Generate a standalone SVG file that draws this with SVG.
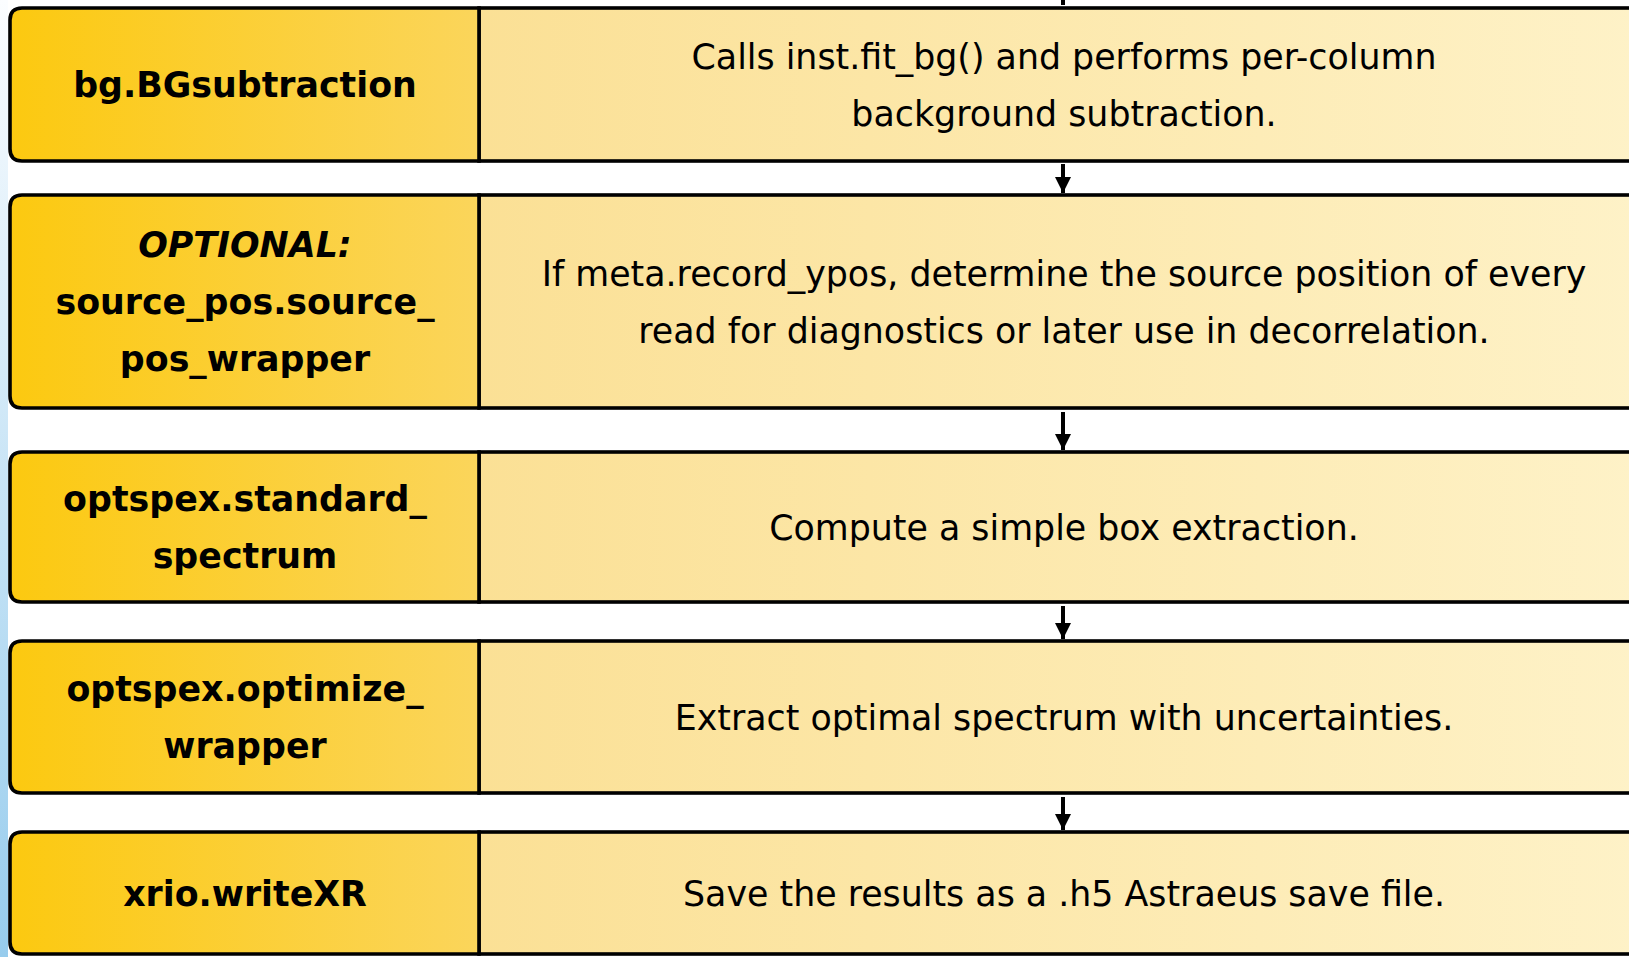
<svg xmlns="http://www.w3.org/2000/svg" width="1629" height="957" viewBox="0 0 1629 957">
<defs>
<linearGradient id="strip" x1="0" y1="0" x2="0" y2="1">
<stop offset="0" stop-color="#fbfdff"/>
<stop offset="1" stop-color="#97cced"/>
</linearGradient>
<linearGradient id="gl" x1="0" y1="0" x2="1" y2="0">
<stop offset="0" stop-color="#fcc910"/>
<stop offset="1" stop-color="#fbd55b"/>
</linearGradient>
<linearGradient id="gr" x1="479" y1="0" x2="1650" y2="0" gradientUnits="userSpaceOnUse">
<stop offset="0" stop-color="#fbe095"/>
<stop offset="1" stop-color="#fef2c8"/>
</linearGradient>
<marker id="ah" viewBox="0 0 16 16" refX="16" refY="8" markerWidth="16" markerHeight="16" markerUnits="userSpaceOnUse" orient="auto">
<path d="M0,0 L16,8 L0,16 Z" fill="#000"/>
</marker>
</defs>
<style>
.l{fill:url(#gl);stroke:#000;stroke-width:3.6}
.r{fill:url(#gr);stroke:#000;stroke-width:3.6}
.t{font-family:"DejaVu Sans","Liberation Sans",sans-serif;font-size:34.8px;fill:#000;text-anchor:middle}
.b{font-weight:bold}
.c{stroke:#000;stroke-width:4;fill:none}
</style>
<rect x="0" y="0" width="1629" height="957" fill="#fff"/>
<rect x="0" y="0" width="8" height="957" fill="url(#strip)"/>

<g id="connectors">
<line class="c" x1="1063" y1="-10" x2="1063" y2="5"/>
<line class="c" x1="1063" y1="164" x2="1063" y2="193" marker-end="url(#ah)"/>
<line class="c" x1="1063" y1="412" x2="1063" y2="450" marker-end="url(#ah)"/>
<line class="c" x1="1063" y1="606" x2="1063" y2="639" marker-end="url(#ah)"/>
<line class="c" x1="1063" y1="797" x2="1063" y2="830" marker-end="url(#ah)"/>
</g>

<g id="n1">
<rect class="r" x="479" y="8" width="1200" height="153"/>
<path class="l" d="M479,8 H22 Q10,8 10,20 V149 Q10,161 22,161 H479 Z"/>
<text class="t b" x="245" y="97">bg.BGsubtraction</text>
<text class="t" x="1064" y="68.5">Calls inst.fit_bg() and performs per-column</text>
<text class="t" x="1064" y="125.5">background subtraction.</text>
</g>

<g id="n2">
<rect class="r" x="479" y="195" width="1200" height="213"/>
<path class="l" d="M479,195 H22 Q10,195 10,207 V396 Q10,408 22,408 H479 Z"/>
<text class="t b" x="245" y="257" font-style="italic">OPTIONAL:</text>
<text class="t b" x="245" y="314">source_pos.source_</text>
<text class="t b" x="245" y="371">pos_wrapper</text>
<text class="t" x="1064" y="285.5">If meta.record_ypos, determine the source position of every</text>
<text class="t" x="1064" y="342.5">read for diagnostics or later use in decorrelation.</text>
</g>

<g id="n3">
<rect class="r" x="479" y="452" width="1200" height="150"/>
<path class="l" d="M479,452 H22 Q10,452 10,464 V590 Q10,602 22,602 H479 Z"/>
<text class="t b" x="245" y="511">optspex.standard_</text>
<text class="t b" x="245" y="568">spectrum</text>
<text class="t" x="1064" y="539.5">Compute a simple box extraction.</text>
</g>

<g id="n4">
<rect class="r" x="479" y="641" width="1200" height="152"/>
<path class="l" d="M479,641 H22 Q10,641 10,653 V781 Q10,793 22,793 H479 Z"/>
<text class="t b" x="245" y="701">optspex.optimize_</text>
<text class="t b" x="245" y="758">wrapper</text>
<text class="t" x="1064" y="729.5">Extract optimal spectrum with uncertainties.</text>
</g>

<g id="n5">
<rect class="r" x="479" y="832" width="1200" height="122"/>
<path class="l" d="M479,832 H22 Q10,832 10,844 V942 Q10,954 22,954 H479 Z"/>
<text class="t b" x="245" y="905.5">xrio.writeXR</text>
<text class="t" x="1064" y="905.5">Save the results as a .h5 Astraeus save file.</text>
</g>
</svg>
